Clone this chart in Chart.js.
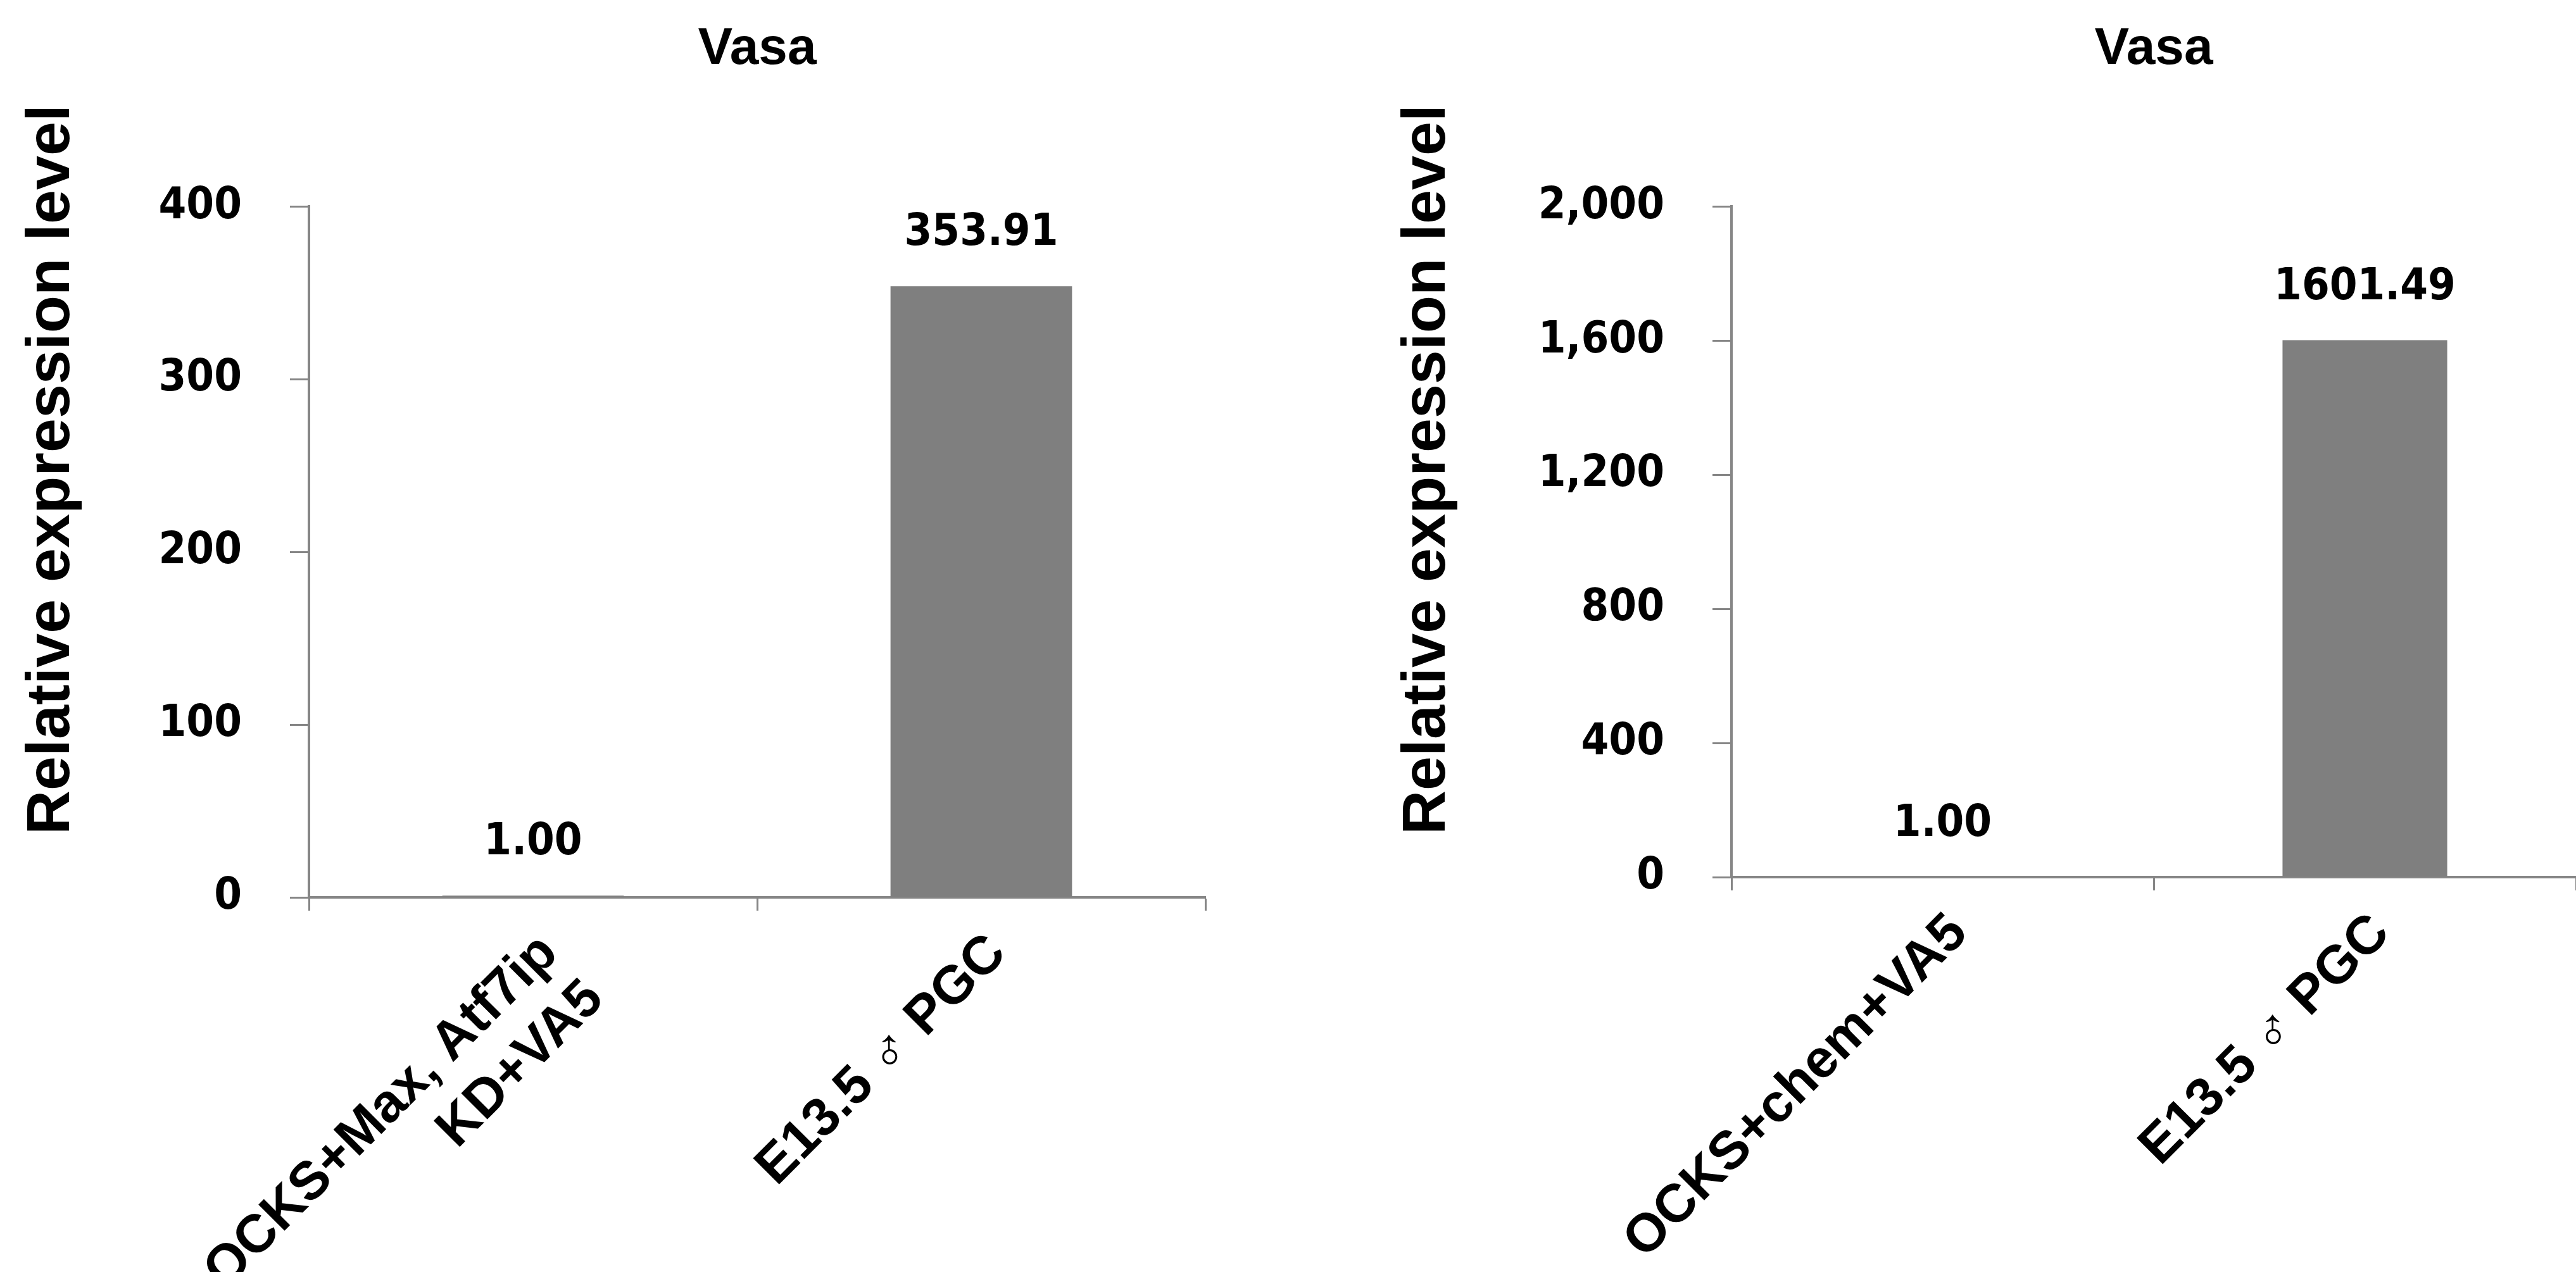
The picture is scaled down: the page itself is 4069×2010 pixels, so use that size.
<!DOCTYPE html>
<html>
<head>
<meta charset="utf-8">
<script src="https://cdn.jsdelivr.net/npm/chart.js@4.4.1/dist/chart.umd.min.js"></script>
<style>
  html, body { margin: 0; padding: 0; background: #fff; overflow: hidden; }
  body { width: 4069px; height: 2010px; position: relative; }
  canvas { position: absolute; top: 0; }
  #leftChart { left: 0; }
  #rightChart { left: 2040px; }
</style>
</head>
<body>
<canvas id="leftChart" width="2030" height="2010"></canvas>
<canvas id="rightChart" width="2029" height="2010"></canvas>
<script>
// --- Data ---
const chartTitle = 'Vasa';
const yTitle = 'Relative expression level';

const leftCategories = [['OCKS+Max, Atf7ip', 'KD+VA5'], 'E13.5 \u2642 PGC'];
const leftValues = [1.00, 353.91];
const leftTicks = [0, 100, 200, 300, 400];

const rightCategories = ['OCKS+chem+VA5', 'E13.5 \u2642 PGC'];
const rightValues = [1.00, 1601.49];
const rightTicks = [0, 400, 800, 1200, 1600, 2000];

// --- Styling ---
const numFont = "'DejaVu Sans Condensed', 'DejaVu Sans', sans-serif";
const textFont = "'Liberation Sans', 'DejaVu Sans', Arial, sans-serif";
const axisGrey = '#868686';
const barGrey = '#7f7f7f';

// value labels above each bar
const valueLabels = {
    id: 'valueLabels',
    afterDatasetsDraw(chart) {
        const ctx = chart.ctx;
        const meta = chart.getDatasetMeta(0);
        ctx.save();
        ctx.font = 'bold 70px ' + numFont;
        ctx.fillStyle = '#000';
        ctx.textAlign = 'center';
        ctx.textBaseline = 'middle';
        meta.data.forEach((bar, i) => {
            const v = chart.data.datasets[0].data[i];
            ctx.fillText(v.toFixed(2), bar.x, bar.y - 83);
        });
        ctx.restore();
    }
};

// rotated y-axis title, placed like the original figure
const yTitlePlugin = {
    id: 'yTitle',
    afterDraw(chart, args, opts) {
        const ctx = chart.ctx;
        ctx.save();
        ctx.translate(opts.x, opts.y);
        ctx.rotate(-Math.PI / 2);
        ctx.font = 'bold 97px ' + textFont;
        ctx.fillStyle = '#000';
        ctx.textAlign = 'center';
        ctx.textBaseline = 'middle';
        ctx.fillText(yTitle, 0, 0);
        ctx.restore();
    }
};

function makeChart(id, categories, values, ticks, layout) {
    const ctx = document.getElementById(id).getContext('2d');
    return new Chart(ctx, {
        type: 'bar',
        data: {
            labels: categories,
            datasets: [{
                data: values,
                backgroundColor: barGrey,
                borderWidth: 0,
                categoryPercentage: 1,
                barPercentage: layout.barPct
            }]
        },
        options: {
            responsive: false,
            animation: false,
            devicePixelRatio: 1,
            layout: { padding: { left: 0, right: layout.padRight, top: 0, bottom: 0 } },
            plugins: {
                legend: { display: false },
                tooltip: { enabled: false },
                title: {
                    display: true,
                    text: chartTitle,
                    fullSize: false,
                    color: '#000',
                    font: { family: textFont, size: 82, weight: 'bold' },
                    padding: { top: 29, bottom: 199 }
                },
                yTitle: { x: layout.yTitleX, y: 742 }
            },
            scales: {
                x: {
                    grid: {
                        offset: true,
                        drawOnChartArea: false,
                        drawTicks: true,
                        tickLength: 21,
                        tickWidth: 3,
                        tickColor: axisGrey
                    },
                    border: { display: true, color: axisGrey, width: 4 },
                    ticks: {
                        color: '#000',
                        font: { family: textFont, size: 85, weight: 'bold' },
                        maxRotation: 45,
                        minRotation: 45,
                        autoSkip: false,
                        padding: 18,
                        labelOffset: 26
                    },
                    afterFit(scale) {
                        scale.height = layout.xHeight;
                        scale.paddingLeft = 0;
                        scale.paddingRight = 0;
                    }
                },
                y: {
                    min: ticks[0],
                    max: ticks[ticks.length - 1],
                    grid: {
                        drawOnChartArea: false,
                        drawTicks: true,
                        tickLength: 30,
                        tickWidth: 3,
                        tickColor: axisGrey
                    },
                    border: { display: true, color: axisGrey, width: 4 },
                    ticks: {
                        stepSize: ticks[1] - ticks[0],
                        color: '#000',
                        padding: 76,
                        font: { family: numFont, size: 70, weight: 'bold' },
                        callback: (v) => v.toLocaleString('en-US')
                    },
                    afterFit(scale) {
                        scale.width = layout.yWidth;
                    }
                }
            }
        },
        plugins: [valueLabels, yTitlePlugin]
    });
}

makeChart('leftChart', leftCategories, leftValues, leftTicks, {
    yWidth: 488, xHeight: 592, padRight: 126, yTitleX: 82, barPct: 0.405
});
makeChart('rightChart', rightCategories, rightValues, rightTicks, {
    yWidth: 695, xHeight: 624, padRight: 0, yTitleX: 215, barPct: 0.39
});
</script>
</body>
</html>
